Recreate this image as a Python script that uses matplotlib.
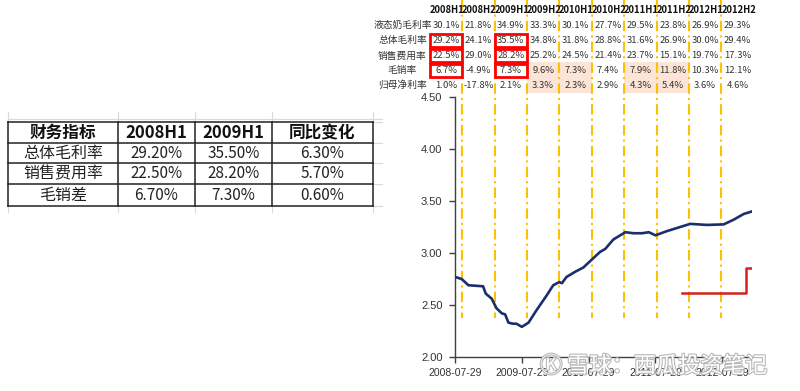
import matplotlib
matplotlib.use("Agg")
import matplotlib.pyplot as plt
import matplotlib.patheffects as pe
from matplotlib.patches import Rectangle
from matplotlib.ticker import FormatStrFormatter

plt.rcParams['font.family'] = ['Noto Sans CJK SC', 'DejaVu Sans']

# ---------------- data ----------------
# top table (half-year financial ratios, %)
periods = ['2008H1', '2008H2', '2009H1', '2009H2', '2010H1',
           '2010H2', '2011H1', '2011H2', '2012H1', '2012H2']
row_names = ['液态奶毛利率', '总体毛利率', '销售费用率', '毛销率', '归母净利率']
liquid_milk_gm = [30.1, 21.8, 34.9, 33.3, 30.1, 27.7, 29.5, 23.8, 26.9, 29.3]
total_gm = [29.2, 24.1, 35.5, 34.8, 31.8, 28.8, 31.6, 26.9, 30.0, 29.4]
sales_exp = [22.5, 29.0, 28.2, 25.2, 24.5, 21.4, 23.7, 15.1, 19.7, 17.3]
gm_minus_sales = [6.7, -4.9, 7.3, 9.6, 7.3, 7.4, 7.9, 11.8, 10.3, 12.1]
net_margin = [1.0, -17.8, 2.1, 3.3, 2.3, 2.9, 4.3, 5.4, 3.6, 4.6]
highlight_cells = [(1, 0), (2, 0), (3, 0), (1, 2), (2, 2), (3, 2)]
shaded_cells = [(3, 3), (3, 4), (4, 3), (4, 4), (3, 6), (3, 7), (4, 6), (4, 7)]

# left table
left_header = ['财务指标', '2008H1', '2009H1', '同比变化']
left_rows = [['总体毛利率', '29.20%', '35.50%', '6.30%'],
             ['销售费用率', '22.50%', '28.20%', '5.70%'],
             ['毛销差', '6.70%', '7.30%', '0.60%']]

# line chart (x in years since 2008-07-29)
line_x = [0.00, 0.10, 0.20, 0.42, 0.46, 0.55, 0.62, 0.70, 0.75, 0.80, 0.87, 0.92,
          1.00, 1.10, 1.22, 1.37, 1.47, 1.56, 1.60, 1.67, 1.80, 1.92, 2.07, 2.17,
          2.25, 2.37, 2.55, 2.67, 2.80, 2.90, 3.00, 3.17, 3.37, 3.52, 3.77, 4.02,
          4.17, 4.32, 4.445]
line_y = [2.77, 2.75, 2.69, 2.68, 2.61, 2.56, 2.47, 2.42, 2.41, 2.33, 2.32, 2.32,
          2.29, 2.33, 2.45, 2.59, 2.69, 2.72, 2.71, 2.77, 2.82, 2.86, 2.95, 3.01,
          3.04, 3.13, 3.20, 3.19, 3.19, 3.20, 3.17, 3.21, 3.25, 3.28, 3.27, 3.275,
          3.32, 3.375, 3.40]
step_x = [3.40, 4.36, 4.445]
step_y = [2.615, 2.855, 2.855]
xtick_pos = [0, 1, 2, 3, 4]
xtick_labels = ['2008-07-29', '2009-07-29', '2010-07-29', '2011-07-29', '2012-07-29']
yticks = [2.0, 2.5, 3.0, 3.5, 4.0, 4.5]

# ---------------- figure ----------------
W, H = 800, 391
fig = plt.figure(figsize=(W / 100, H / 100), dpi=100)
fig.patch.set_facecolor('white')

ov = fig.add_axes([0, 0, 1, 1], zorder=0)
ov.set_xlim(0, W)
ov.set_ylim(H, 0)
ov.axis('off')

# ----- top table layout -----
col0, colw = 446.0, 32.4
centers = [col0 + i * colw for i in range(len(periods))]
row_y = [25, 40.5, 55.5, 70.5, 85]
hdr_y = 10
label_x = 402.5
row_h = 15

for (r, c) in shaded_cells:
    ov.add_patch(Rectangle((centers[c] - colw / 2, row_y[r] - row_h / 2 - 1),
                           colw, row_h + 1, facecolor='#FCE4D6',
                           edgecolor='none', zorder=1))

# dashed separators between columns
for i in range(len(periods) - 1):
    xb = centers[i] + colw / 2
    ov.plot([xb, xb], [0, 318], color='#FFC000', lw=1.5,
            ls=(0, (5, 2, 1, 2)), zorder=2)

for c, p in enumerate(periods):
    ov.text(centers[c] + 1, hdr_y, p, ha='center', va='center', fontsize=6.8,
            fontweight='bold', color='#111111', zorder=4)

table_rows = [liquid_milk_gm, total_gm, sales_exp, gm_minus_sales, net_margin]
for r, (name, vals) in enumerate(zip(row_names, table_rows)):
    ov.text(label_x, row_y[r], name, ha='center', va='center', fontsize=7,
            color='#333333', zorder=4)
    for c, v in enumerate(vals):
        ov.text(centers[c], row_y[r], f'{v:.1f}%', ha='center', va='center',
                fontsize=6.8, color='#333333', zorder=4)

for (r, c) in highlight_cells:
    ov.add_patch(Rectangle((centers[c] - colw / 2 + 0.5, row_y[r] - 7),
                           colw - 1, 13.5, facecolor='none',
                           edgecolor='#FF0000', lw=2.0, zorder=5))

# ----- left table -----
hlines = [122, 143, 163, 184, 206]
vlines = [8, 118, 195, 272, 373]
ov.plot([8, 382], [119, 119], color='#d9d9d9', lw=0.8, zorder=1)
for yv in hlines:
    ov.plot([8, 373], [yv, yv], color='#222222', lw=1.1, zorder=3)
    ov.plot([373, 382], [yv, yv], color='#d9d9d9', lw=0.8, zorder=1)
for xv in vlines:
    ov.plot([xv, xv], [122, 206], color='#222222', lw=1.1, zorder=3)
    ov.plot([xv, xv], [206, 212], color='#d9d9d9', lw=0.8, zorder=1)
    ov.plot([xv, xv], [112, 122], color='#d9d9d9', lw=0.8, zorder=1)

for c in range(4):
    xc = (vlines[c] + vlines[c + 1]) / 2
    ov.text(xc, (hlines[0] + hlines[1]) / 2 + 0.5, left_header[c], ha='center',
            va='center', fontsize=12, fontweight='bold', color='#111111')
    for r, row in enumerate(left_rows):
        yc = (hlines[r + 1] + hlines[r + 2]) / 2 + 0.5
        ov.text(xc, yc, row[c], ha='center', va='center',
                fontsize=11.5 if c == 0 else 11, color='#222222')

# ----- line chart -----
ax = fig.add_axes([455 / W, 34 / H, 297 / W, 260 / H], zorder=1)
ax.set_facecolor('none')
ax.plot(line_x, line_y, color='#1B2F6E', lw=1.9, zorder=3)
ax.step(step_x, step_y, where='post', color='#D42020', lw=1.8, zorder=3)
ax.set_xlim(0, 4.445)
ax.set_ylim(2.0, 4.5)
ax.set_yticks(yticks)
ax.yaxis.set_major_formatter(FormatStrFormatter('%.2f'))
ax.set_xticks(xtick_pos)
ax.set_xticklabels(xtick_labels)
for s in ['top', 'right']:
    ax.spines[s].set_visible(False)
for s in ['left', 'bottom']:
    ax.spines[s].set_color('#404040')
    ax.spines[s].set_linewidth(1.0)
ax.tick_params(axis='y', direction='out', length=4, width=1, color='#404040',
               pad=5, labelsize=8, labelcolor='#333333')
ax.tick_params(axis='x', direction='out', length=4, width=1, color='#404040',
               pad=4, labelsize=7.5, labelcolor='#333333')
for lab in ax.get_xticklabels() + ax.get_yticklabels():
    lab.set_family('Liberation Sans')

# watermark
wm = fig.text(540 / W, 1 - 366 / H, 'Ⓚ 雪球：西瓜投资笔记', ha='left', va='center',
              fontsize=16, color='white', zorder=10,
              family=['Noto Sans CJK SC', 'DejaVu Sans'])
wm.set_path_effects([pe.withStroke(linewidth=1.6, foreground='#b8b8b8')])

fig.savefig('out.png', dpi=100, facecolor='white')
